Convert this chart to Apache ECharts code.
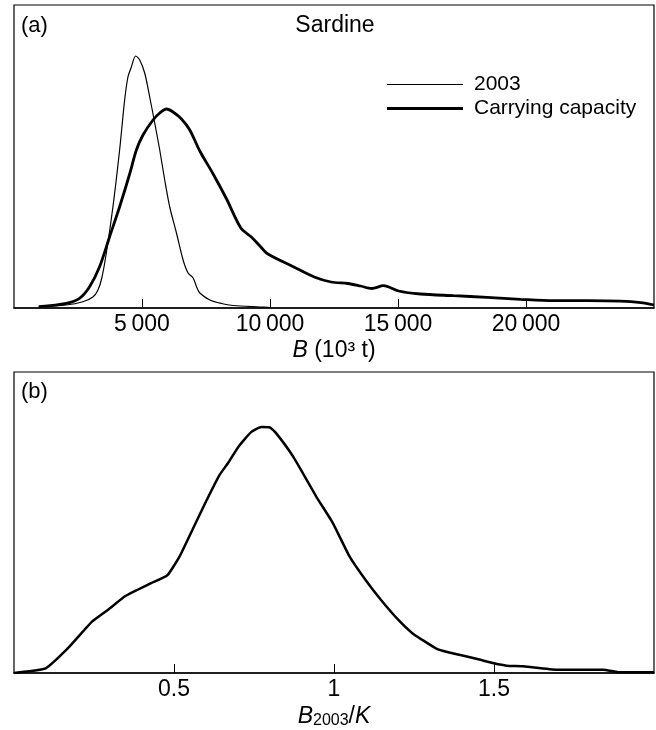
<!DOCTYPE html>
<html>
<head>
<meta charset="utf-8">
<script src="https://cdn.jsdelivr.net/npm/echarts@6/dist/echarts.min.js"></script>
<style>
html,body{margin:0;padding:0;background:#fff;}
#chart{width:656px;height:730px;}
</style>
</head>
<body>
<div id="chart"></div>
<script>
// Panel (a): density of biomass B (10^3 t), arbitrary density units
var biomass2003 = [
  [967,1.3],[2040,3],[2690,6.3],[3081,11],[3280,18],[3430,30],[3606,55],[3864,101],[4126,158],
  [4322,208],[4451,231],[4584,241],[4753,252],[4910,248],[5105,235],[5301,211],
  [5497,185],[5693,158],[5888,128],[6084,101],[6346,75],[6605,48],[6800,35],[6996,30],
  [7150,20],[7258,15],[7650,8],[8100,4.5],[8562,2.5],[9605,1],[10000,0.5]
];
var carryingCapacity = [
  [967,1.3],[2040,4.7],[2560,9.7],[2952,21.3],[3343,41.3],[3735,71.3],[4126,101.3],
  [4518,134],[4780,158],[5039,173],[5430,188],[5693,195],[5955,199],[6213,196],
  [6542,189],[6867,178],[7258,157],[7779,134],[8304,109],[8860,80],[9271,71],
  [9607,62],[9921,54],[10911,41.3],[11729,31],[12387,26],[13041,24.5],[13534,22],
  [13980,19.5],[14435,22.3],[15022,17],[15872,14],[17175,12.3],[18483,10.7],
  [19787,8.7],[21090,7.3],[22398,7.3],[23700,6.8],[24483,5.3],[25000,3]
];
// Panel (b): density of B2003/K
var ratioDensity = [
  [0,0],[0.047,1.7],[0.099,4.7],[0.171,25.7],[0.243,51.3],[0.296,64],[0.348,77.3],
  [0.427,90],[0.479,98],[0.518,117.3],[0.558,144],[0.603,174],[0.643,199],[0.669,210.7],
  [0.702,227.3],[0.741,241.7],[0.773,246.7],[0.800,246.3],[0.819,240.7],[0.872,217.3],
  [0.944,177.3],[0.996,150.7],[1.048,117.3],[1.101,92.3],[1.147,73.3],[1.199,54],
  [1.245,40],[1.323,24],[1.395,18],[1.448,14],[1.5,9.7],[1.539,7.3],[1.592,6.7],
  [1.697,3.3],[1.841,3.3],[1.893,0.7],[2.0,0.7]
];
var seriesNames = ['2003', 'Carrying capacity'];
var panelLabels = ['(a)', '(b)'];
var titleText = 'Sardine';

var FF = "'Liberation Sans', Arial, Helvetica, sans-serif";
var chart = echarts.init(document.getElementById('chart'), null, {renderer:'canvas'});

function thin(v){ return String(v).replace(/\B(?=(\d{3})+(?!\d))/g, '\u2009'); }

var axisCommon = {
  axisLine:{show:true, lineStyle:{color:'#000', width:1.5}},
  axisTick:{show:true, inside:true, length:9, lineStyle:{color:'#000', width:1}},
  splitLine:{show:false},
  nameLocation:'middle'
};

chart.setOption({
  animation:false,
  backgroundColor:'#fff',
  textStyle:{fontFamily:FF, color:'#000'},
  grid:[
    {left:14, right:2, top:5, height:303, show:true, borderColor:'#000', borderWidth:1.2, containLabel:false},
    {left:14, right:2, top:372, height:302, show:true, borderColor:'#000', borderWidth:1.2, containLabel:false}
  ],
  legend:{
    data:[
      {name:seriesNames[0], icon:'path://M0,0H76V1.1H0Z'},
      {name:seriesNames[1], icon:'path://M0,0H76V3H0Z'}
    ],
    orient:'vertical',
    left:387, top:74, padding:0,
    itemWidth:76, itemHeight:14, itemGap:3,
    symbolKeepAspect:true,
    itemStyle:{color:'#000', borderWidth:0},
    textStyle:{fontSize:21, lineHeight:21, color:'#000', fontFamily:FF, padding:[0,0,0,6]}
  },
  graphic:[
    {type:'text', left:21, top:15, style:{text:panelLabels[0], fontSize:22, fontFamily:FF, fill:'#000'}},
    {type:'text', left:21, top:381, style:{text:panelLabels[1], fontSize:22, fontFamily:FF, fill:'#000'}},
    {type:'text', x:335, y:26, style:{text:titleText, fontSize:23, fontFamily:FF, fill:'#000', align:'center', verticalAlign:'middle'}}
  ],
  xAxis:[
    Object.assign({}, axisCommon, {
      gridIndex:0, type:'value', min:0, max:25000, interval:5000,
      axisLabel:{showMinLabel:false, showMaxLabel:false, fontSize:23, color:'#000', fontFamily:FF, margin:5, formatter:thin},
      name:'{i|B} (10\u00b3 t)', nameGap:31,
      nameTextStyle:{fontSize:23, lineHeight:24, color:'#000', fontFamily:FF, rich:{
        i:{fontSize:23, lineHeight:24, fontStyle:'italic', fontFamily:FF, color:'#000'}
      }}
    }),
    Object.assign({}, axisCommon, {
      gridIndex:1, type:'value', min:0, max:2, interval:0.5,
      axisLabel:{showMinLabel:false, showMaxLabel:false, fontSize:23, color:'#000', fontFamily:FF, margin:5},
      name:'{i|B}{sub|2003}/{i|K}', nameGap:32,
      nameTextStyle:{fontSize:23, lineHeight:24, color:'#000', fontFamily:FF, rich:{
        i:{fontSize:23, lineHeight:24, fontStyle:'italic', fontFamily:FF, color:'#000'},
        sub:{fontSize:16, lineHeight:14, verticalAlign:'bottom', fontFamily:FF, color:'#000'}
      }}
    })
  ],
  yAxis:[
    {gridIndex:0, type:'value', min:0, max:303, show:false, splitLine:{show:false}},
    {gridIndex:1, type:'value', min:0, max:302, show:false, splitLine:{show:false}}
  ],
  series:[
    {name:seriesNames[0], type:'line', xAxisIndex:0, yAxisIndex:0, data:biomass2003,
     symbol:'none', smooth:0.3, color:'#000', lineStyle:{color:'#000', width:1.2}},
    {name:seriesNames[1], type:'line', xAxisIndex:0, yAxisIndex:0, data:carryingCapacity,
     symbol:'none', smooth:0.3, color:'#000', lineStyle:{color:'#000', width:2.8}},
    {name:'ratio', type:'line', xAxisIndex:1, yAxisIndex:1, data:ratioDensity,
     symbol:'none', smooth:0.15, color:'#000', lineStyle:{color:'#000', width:2.5}}
  ]
});
</script>
</body>
</html>
